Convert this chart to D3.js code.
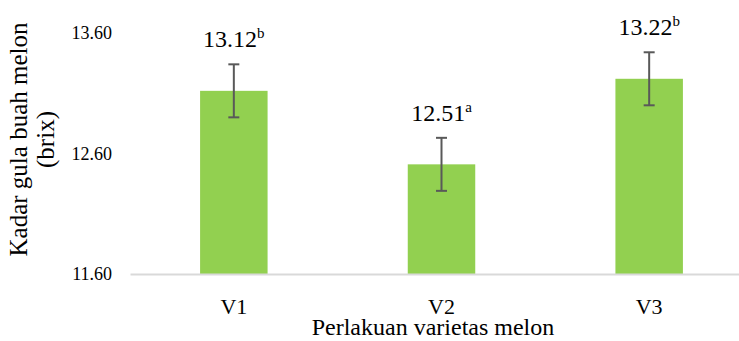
<!DOCTYPE html>
<html>
<head>
<meta charset="utf-8">
<script src="https://cdn.jsdelivr.net/npm/d3@7"></script>
<style>
  html, body { margin: 0; padding: 0; background: #fff; }
  svg { display: block; }
  svg text { font-family: "Liberation Serif", "DejaVu Serif", serif; }
</style>
</head>
<body>
<svg id="chart" width="739" height="341"></svg>
<script>
// Sugar content (°Brix) per melon variety, with standard error and significance letters
const categories = ["V1", "V2", "V3"];
const values = [13.12, 12.51, 13.22];
const errors = [0.22, 0.22, 0.22];
const letters = ["b", "a", "b"];
const yTicks = [11.6, 12.6, 13.6];

const FONT = "'Liberation Serif', 'DejaVu Serif', serif";
const svg = d3.select("#chart");
const margin = { left: 130, right: -14, top: 33, bottom: 67 };
const W = 739, H = 341;

const x = d3.scaleBand()
  .domain(categories)
  .range([margin.left, W - margin.right])
  .paddingInner(0.675)
  .paddingOuter(0.3375);

const y = d3.scaleLinear()
  .domain([11.6, 13.6])
  .range([H - margin.bottom, margin.top]);

// bars
svg.append("g").selectAll("rect")
  .data(values)
  .join("rect")
  .attr("x", (d, i) => x(categories[i]))
  .attr("y", d => y(d))
  .attr("width", x.bandwidth())
  .attr("height", d => y(11.6) - y(d))
  .attr("fill", "#92d050");

// baseline axis
const xAxis = svg.append("g")
  .attr("transform", `translate(0,${y(11.6)})`)
  .call(d3.axisBottom(x).tickSize(0).tickPadding(24));
xAxis.attr("font-family", FONT);
xAxis.select(".domain").attr("stroke", "#d9d9d9").attr("stroke-width", 2);
xAxis.selectAll("text")
  .attr("font-size", 22)
  .attr("font-family", FONT)
  .attr("fill", "#000");

// y axis labels only
const yAxis = svg.append("g")
  .attr("transform", `translate(${margin.left - 18},0)`)
  .call(d3.axisLeft(y).tickValues(yTicks).tickFormat(d3.format(".2f")).tickSize(0).tickPadding(0));
yAxis.attr("font-family", FONT);
yAxis.select(".domain").remove();
yAxis.selectAll("text")
  .attr("font-size", 18)
  .attr("font-family", FONT)
  .attr("fill", "#000");

// error bars
const cap = 5.5;
const eb = svg.append("g").attr("stroke", "#595959").attr("stroke-width", 2);
values.forEach((v, i) => {
  const cx = x(categories[i]) + x.bandwidth() / 2;
  const lo = y(v - errors[i]), hi = y(v + errors[i]);
  eb.append("line").attr("x1", cx).attr("x2", cx).attr("y1", lo).attr("y2", hi);
  eb.append("line").attr("x1", cx - cap).attr("x2", cx + cap).attr("y1", lo).attr("y2", lo);
  eb.append("line").attr("x1", cx - cap).attr("x2", cx + cap).attr("y1", hi).attr("y2", hi);
});

// value labels with superscript letters
values.forEach((v, i) => {
  const cx = x(categories[i]) + x.bandwidth() / 2;
  const t = svg.append("text")
    .attr("x", cx)
    .attr("y", y(v + errors[i]) - 17)
    .attr("text-anchor", "middle")
    .attr("font-size", 24)
    .attr("font-family", FONT)
    .attr("fill", "#000");
  t.append("tspan").text(d3.format(".2f")(v));
  t.append("tspan").attr("font-size", 15).attr("dy", -9).text(letters[i]);
});

// axis titles
svg.append("text")
  .attr("transform", `translate(${27},${y(12.6) - 14}) rotate(-90)`)
  .attr("text-anchor", "middle")
  .attr("font-size", 25)
  .attr("font-family", FONT)
  .attr("fill", "#000")
  .text("Kadar gula buah melon");
svg.append("text")
  .attr("transform", `translate(${54},${y(12.6) - 14}) rotate(-90)`)
  .attr("text-anchor", "middle")
  .attr("font-size", 25)
  .attr("font-family", FONT)
  .attr("fill", "#000")
  .text("(brix)");

svg.append("text")
  .attr("x", 433)
  .attr("y", 335)
  .attr("text-anchor", "middle")
  .attr("font-size", 24)
  .attr("font-family", FONT)
  .attr("fill", "#000")
  .text("Perlakuan varietas melon");
</script>
</body>
</html>
